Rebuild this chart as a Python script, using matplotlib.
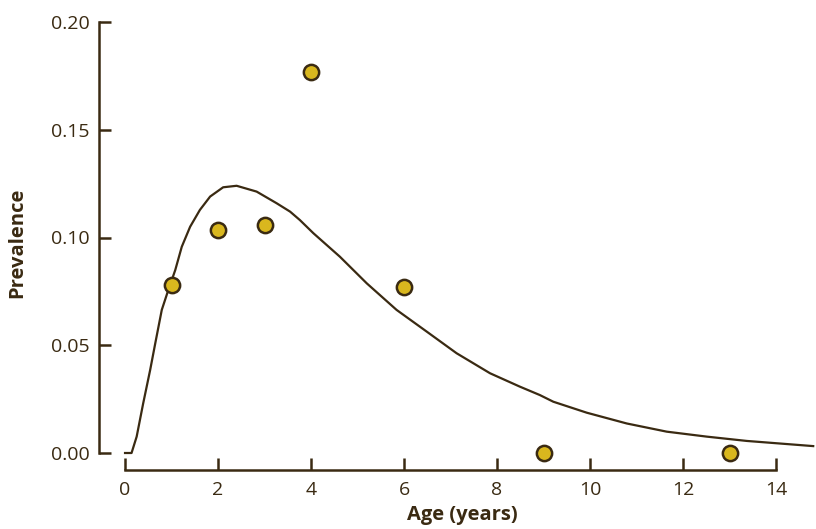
import matplotlib.pyplot as plt

## Data observed (prevalence by age) ##
ages = [1, 2, 3, 4, 6, 9, 13]
prevalence = [0.078, 0.1035, 0.106, 0.1768, 0.077, 0.0, 0.0]

## Fitted curve ##
curve_x = [0.0, 0.14, 0.25, 0.39, 0.54, 0.65, 0.79, 0.93, 1.08, 1.22, 1.40,
           1.61, 1.83, 2.11, 2.40, 2.83, 3.26, 3.55, 3.76, 4.05, 4.62, 5.20,
           5.84, 6.49, 7.13, 7.85, 8.49, 8.92, 9.21, 9.93, 10.79, 11.65,
           12.51, 13.37, 14.80]
curve_y = [0.0, 0.0, 0.0076, 0.023, 0.0385, 0.0509, 0.0664, 0.0756, 0.0849,
           0.0957, 0.105, 0.1128, 0.119, 0.1233, 0.1240, 0.1213, 0.1159,
           0.112, 0.1081, 0.1020, 0.0911, 0.0787, 0.0664, 0.0563, 0.0463,
           0.0370, 0.0308, 0.0269, 0.0238, 0.0187, 0.0137, 0.0099, 0.0076,
           0.0056, 0.0032]

brown = "#3a2a12"
gold = "#d9b71e"

plt.rcParams["font.family"] = ["Open Sans", "DejaVu Sans"]

fig = plt.figure(figsize=(8.16, 5.29), dpi=100)
ax = fig.add_axes([99 / 816, 76 / 529, 717 / 816, 431 / 529])

ax.plot(curve_x, curve_y, color=brown, lw=1.6, clip_on=False, zorder=2,
        solid_joinstyle="round")
ax.plot(ages, prevalence, "o", ms=11, mfc=gold, mec=brown, mew=1.8,
        clip_on=False, zorder=3)

ax.set_xlim(-0.56, 14.86)
ax.set_ylim(0, 0.2)

for side in ["top", "right"]:
    ax.spines[side].set_visible(False)
ax.spines["bottom"].set_position(("outward", 12.5))
ax.spines["bottom"].set_bounds(0, 14)
ax.spines["left"].set_bounds(0, 0.2)
for side in ["left", "bottom"]:
    ax.spines[side].set_color(brown)
    ax.spines[side].set_linewidth(1.8)

ax.set_xticks(range(0, 15, 2))
ax.set_yticks([0.0, 0.05, 0.10, 0.15, 0.20])
ax.set_yticklabels(["0.00", "0.05", "0.10", "0.15", "0.20"])
ax.tick_params(axis="both", direction="in", length=8.5, width=1.8,
               color=brown, labelcolor=brown, labelsize=14)
ax.tick_params(axis="y", pad=7)
ax.tick_params(axis="x", pad=8)

ax.set_xlabel("Age (years)", fontsize=14.5, fontweight="bold", color=brown)
ax.set_ylabel("Prevalence", fontsize=14.5, fontweight="bold", color=brown)
ax.xaxis.set_label_coords((462 - 99) / 717, (453 - 505) / 431)
ax.yaxis.set_label_coords((27 - 99) / 717, (453 - 243) / 431)

fig.savefig("out.png", dpi=100)
